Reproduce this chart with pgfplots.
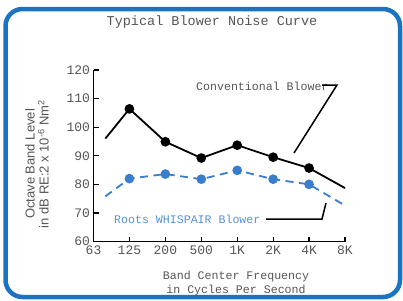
\documentclass[border=0pt]{standalone}
\usepackage{pgfplots}
\pgfplotsset{compat=1.18}
\usepackage{fontspec}
\setmainfont{Liberation Mono}
\newfontfamily\sansf{Liberation Sans}
\definecolor{frameblue}{HTML}{1A74C2}
\definecolor{dataBlue}{HTML}{3A7DCA}
\definecolor{txtgray}{HTML}{555555}
\pgfplotstableread{
x y
0.33 96
1 106.4
2 94.9
3 89.2
4 93.7
5 89.5
6 85.7
7 78.7
}\conv
\pgfplotstableread{
x y
0.33 75.8
1 82
2 83.6
3 81.8
4 84.9
5 81.8
6 80
7 72.6
}\roots
\begin{document}
\begin{tikzpicture}
\useasboundingbox (0,0) rectangle (403bp,-301bp);
\draw[line width=4.5bp, frameblue, rounded corners=17bp] (5.5bp,-9bp) rectangle (400bp,-297bp);
\node[font=\fontsize{13.5bp}{15bp}\selectfont, text=txtgray] at (212bp,-22bp) {Typical Blower Noise Curve};
\begin{axis}[
  at={(93.5bp,-241.5bp)}, anchor=south west,
  scale only axis, width=251.5bp, height=171.5bp,
  xmin=0, xmax=7, ymin=60, ymax=120,
  axis x line*=bottom, axis y line*=left,
  axis line style={line width=1.5bp, black},
  xtick={0,...,7}, xticklabels={63,125,200,500,1K,2K,4K,8K},
  ytick={60,70,...,120},
  tick align=inside, major tick length=5bp,
  tick style={line width=1.2bp, black},
  /pgf/number format/assume math mode=true,
  ticklabel style={font=\fontsize{13bp}{15bp}\selectfont, text=txtgray},
  xticklabel style={yshift=-1bp},
  clip=false,
]
\addplot[black, line width=1.8bp, mark=*, mark size=3.9bp,
  mark indices={2,3,4,5,6,7}] table[x=x,y=y] {\conv};
\addplot[dataBlue, line width=1.8bp, dash pattern=on 8bp off 5.5bp, mark=*, mark size=3.9bp,
  mark options={solid}, mark indices={2,3,4,5,6,7}] table[x=x,y=y] {\roots};
\end{axis}
% annotations
\node[anchor=west, font=\fontsize{11.6bp}{13bp}\selectfont, text=txtgray, inner sep=0pt] at (196bp,-86bp) {Conventional Blower};
\draw[black, line width=1.5bp] (322bp,-85bp) -- (337bp,-85bp) -- (294bp,-153bp);
\node[anchor=west, font=\fontsize{11.6bp}{13bp}\selectfont, text=dataBlue!85!white, inner sep=0pt] at (114bp,-219bp) {Roots WHISPAIR Blower};
\draw[black, line width=1.5bp] (266bp,-219bp) -- (322bp,-219bp) -- (326bp,-203bp);
% axis labels
\node[font=\fontsize{11.6bp}{14.5bp}\selectfont, text=txtgray, align=center] at (236bp,-283.5bp) {Band Center Frequency\\in Cycles Per Second};
\node[rotate=90, font=\sansf\fontsize{13bp}{14bp}\selectfont, text=txtgray, align=center] at (37bp,-164bp) {Octave Band Level\\in dB RE:2 x 10\textsuperscript{-6} Nm\textsuperscript{2}};
\end{tikzpicture}
\end{document}
